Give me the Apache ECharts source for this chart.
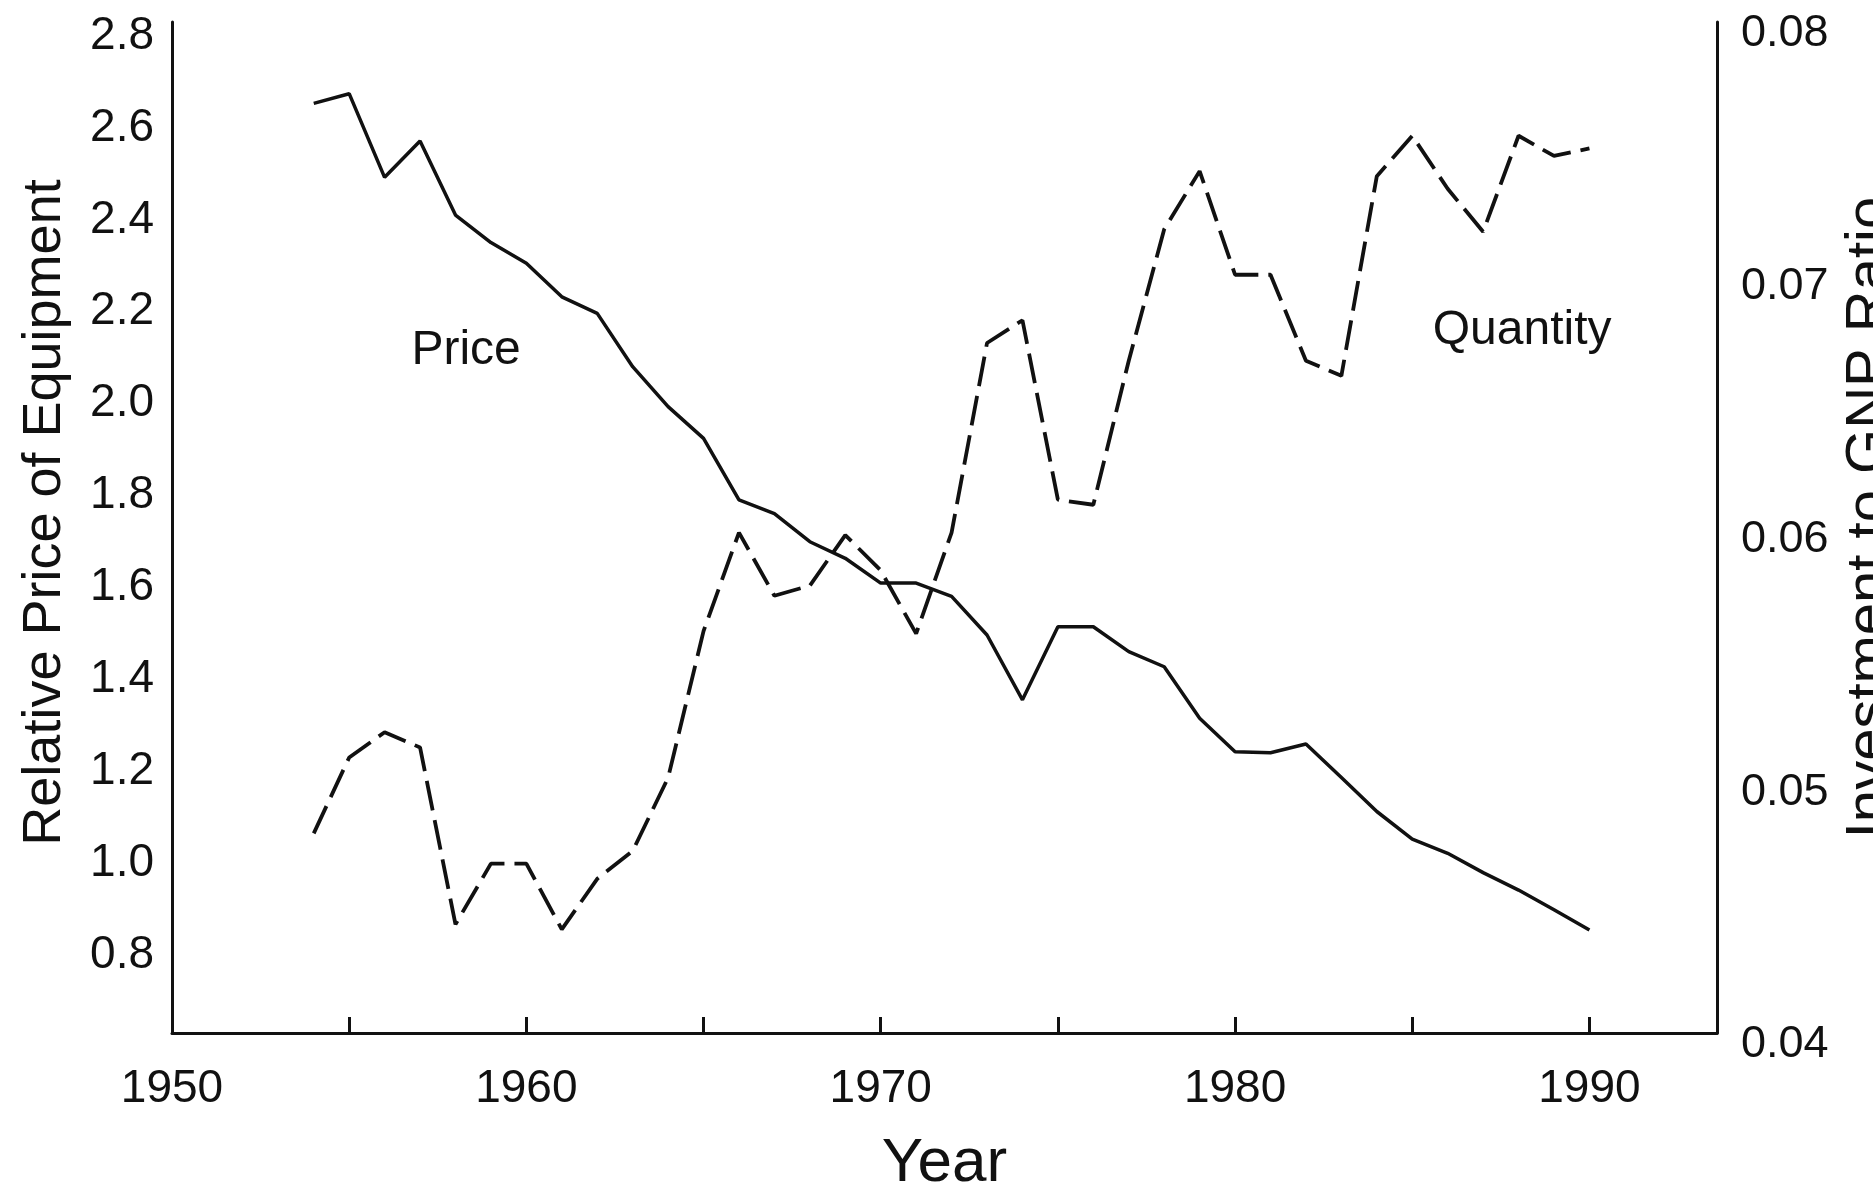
<!DOCTYPE html>
<html>
<head>
<meta charset="utf-8">
<script src="https://cdn.jsdelivr.net/npm/echarts@6/dist/echarts.min.js"></script>
<style>
html,body{margin:0;padding:0;background:#fff;}
#chart{width:1873px;height:1186px;}
</style>
</head>
<body>
<div id="chart"></div>
<script>
const years = [1954,1955,1956,1957,1958,1959,1960,1961,1962,1963,1964,1965,1966,1967,1968,1969,1970,1971,1972,1973,1974,1975,1976,1977,1978,1979,1980,1981,1982,1983,1984,1985,1986,1987,1988,1989,1990];
const price = [2.623,2.644,2.462,2.541,2.380,2.320,2.275,2.202,2.166,2.050,1.963,1.894,1.760,1.730,1.669,1.633,1.579,1.579,1.550,1.466,1.325,1.484,1.484,1.430,1.397,1.285,1.212,1.210,1.229,1.156,1.082,1.022,0.991,0.949,0.911,0.868,0.824];
const quantity = [0.0479,0.0509,0.0519,0.0513,0.0443,0.0467,0.0467,0.0441,0.0461,0.0472,0.0501,0.0559,0.0598,0.0573,0.0577,0.0597,0.0583,0.0558,0.0598,0.0673,0.0682,0.0611,0.0609,0.0666,0.0718,0.0741,0.0700,0.0700,0.0666,0.0660,0.0739,0.0755,0.0734,0.0717,0.0755,0.0747,0.0750];
const xTickLabels = [1950,1960,1970,1980,1990];
const leftTickLabels = ['0.8','1.0','1.2','1.4','1.6','1.8','2.0','2.2','2.4','2.6','2.8'];
const rightTickLabels = ['0.04','0.05','0.06','0.07','0.08'];

const FONT = '"Liberation Sans", Arial, Helvetica, sans-serif';
const chart = echarts.init(document.getElementById('chart'), null, {renderer:'canvas'});

const priceData = years.map((y,i)=>[y, price[i]]);
const qtyData = years.map((y,i)=>[y, quantity[i]]);

chart.setOption({
  animation:false,
  backgroundColor:'#ffffff',
  textStyle:{fontFamily:FONT,color:'#111'},
  grid:{left:172,right:156,top:22,bottom:153,containLabel:false,outerBoundsMode:'none'},
  xAxis:{
    type:'value', min:1950, max:1993.6, interval:5,
    name:'Year', nameLocation:'middle', nameGap:100,
    nameTextStyle:{fontSize:62,color:'#111',fontFamily:FONT},
    axisLine:{show:true,lineStyle:{color:'#111',width:3}},
    axisTick:{show:true,inside:true,length:16,lineStyle:{color:'#111',width:3}},
    axisLabel:{show:true,margin:33,fontSize:46,color:'#111',fontFamily:FONT,showMaxLabel:false,
      formatter:function(v){ return xTickLabels.indexOf(Math.round(v))>=0 && Math.abs(v-Math.round(v))<1e-6 ? String(Math.round(v)) : ''; }},
    splitLine:{show:false}
  },
  yAxis:[
    {
      type:'value', position:'left', min:0.6, max:2.8, interval:0.2,
      name:'Relative Price of Equipment', nameLocation:'middle', nameRotate:90, nameGap:100,
      nameTextStyle:{fontSize:54,color:'#111',fontFamily:FONT,padding:[0,0,0,30]},
      axisLine:{show:true,lineStyle:{color:'#111',width:3}},
      axisTick:{show:false},
      axisLabel:{show:true,margin:18,fontSize:46,color:'#111',fontFamily:FONT,verticalAlign:'top',lineHeight:28,
        formatter:function(v){ const s=v.toFixed(1); return leftTickLabels.indexOf(s)>=0 ? s : ''; }},
      splitLine:{show:false}
    },
    {
      type:'value', position:'right', min:0.04, max:0.08, interval:0.01,
      name:'Investment to GNP Ratio', nameLocation:'middle', nameRotate:90, nameGap:124,
      nameTextStyle:{fontSize:58,color:'#111',fontFamily:FONT,padding:[0,0,0,20]},
      axisLine:{show:true,lineStyle:{color:'#111',width:3}},
      axisTick:{show:false},
      axisLabel:{show:true,margin:24,fontSize:45,color:'#111',fontFamily:FONT,verticalAlign:'top',lineHeight:24,
        formatter:function(v){ const s=v.toFixed(2); return rightTickLabels.indexOf(s)>=0 ? s : ''; }},
      splitLine:{show:false}
    }
  ],
  series:[
    {
      name:'Price', type:'line', xAxisIndex:0, yAxisIndex:0, data:priceData,
      showSymbol:false, symbol:'none',
      lineStyle:{color:'#111',width:3.5,type:'solid'},
      markPoint:{symbol:'circle',symbolSize:0,silent:true,
        label:{show:true,position:'inside',formatter:'Price',fontSize:48,color:'#111',fontFamily:FONT},
        data:[{coord:[1958.3,2.084]}]}
    },
    {
      name:'Quantity', type:'line', xAxisIndex:0, yAxisIndex:1, data:qtyData,
      showSymbol:false, symbol:'none',
      lineStyle:{color:'#111',width:3.8,type:[30,10]},
      markPoint:{symbol:'circle',symbolSize:0,silent:true,
        label:{show:true,position:'inside',formatter:'Quantity',fontSize:48,color:'#111',fontFamily:FONT},
        data:[{coord:[1988.1,0.0678]}]}
    }
  ]
});
</script>
</body>
</html>
